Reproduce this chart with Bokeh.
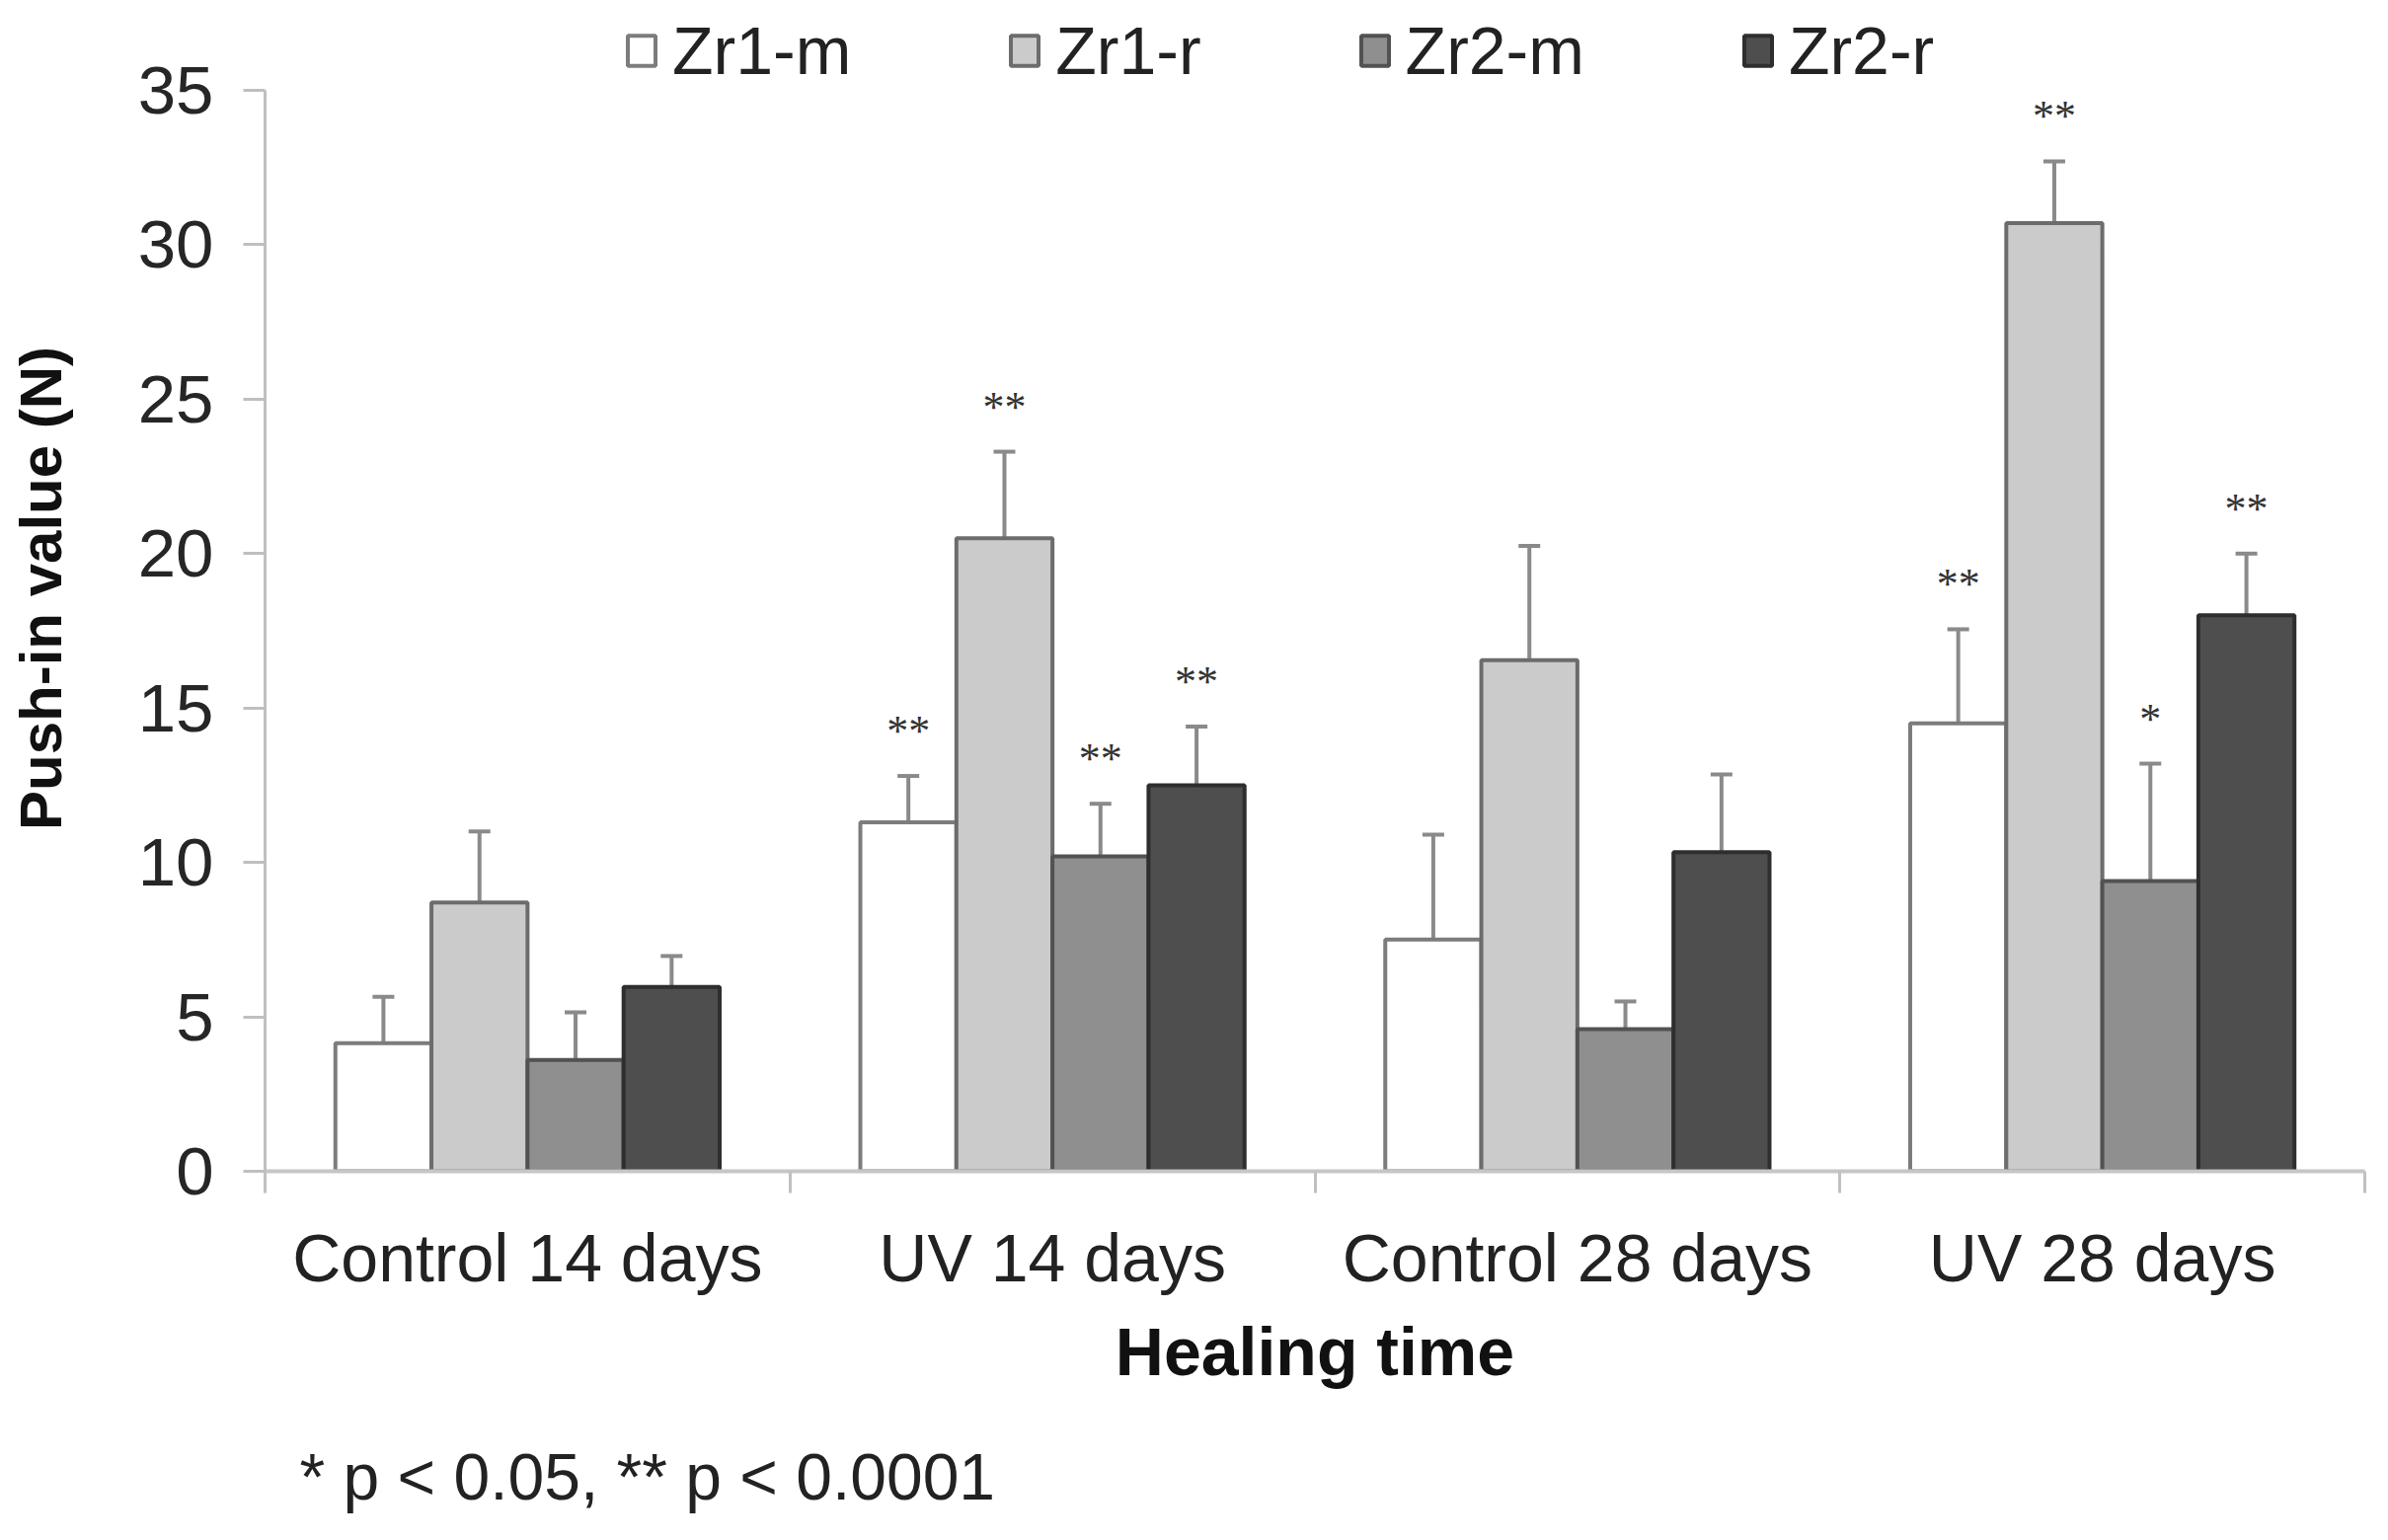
from bokeh.plotting import figure
from bokeh.models import (Range1d, FixedTicker, Whisker, TeeHead, ColumnDataSource,
                          Legend, LegendItem, LabelSet, Title)
from bokeh.embed import file_html
from bokeh.resources import INLINE

# ---------------- data ----------------
categories = ["Control 14 days", "UV 14 days", "Control 28 days", "UV 28 days"]
series = ["Zr1-m", "Zr1-r", "Zr2-m", "Zr2-r"]

zr1_m = [4.15, 11.3, 7.5, 14.5]
zr1_r = [8.7, 20.5, 16.55, 30.7]
zr2_m = [3.6, 10.2, 4.6, 9.4]
zr2_r = [5.97, 12.5, 10.33, 18.0]

zr1_m_sd = [1.5, 1.5, 3.4, 3.05]
zr1_r_sd = [2.3, 2.8, 3.7, 2.0]
zr2_m_sd = [1.55, 1.7, 0.9, 3.8]
zr2_r_sd = [1.0, 1.9, 2.52, 2.0]

zr1_m_sig = ["", "**", "", "**"]
zr1_r_sig = ["", "**", "", "**"]
zr2_m_sig = ["", "**", "", "*"]
zr2_r_sig = ["", "**", "", "**"]

y_ticks = [0, 5, 10, 15, 20, 25, 30, 35]
footnote = "* p < 0.05, ** p < 0.0001"

# ---------------- styles ----------------
FONT = "Liberation Sans"
fills = ["#ffffff", "#cbcbcb", "#8f8f8f", "#4e4e4e"]
lines = ["#7c7c7c", "#6c6c6c", "#525252", "#2e2e2e"]
bar_w = 0.183
Y_AXIS_MAX = 35
Y_VIEW_MAX = 37.75   # extra room above the axis for the legend row

n = len(categories)
p = figure(width=2403, height=1544, x_range=Range1d(0, n), y_range=Range1d(0, Y_VIEW_MAX),
           output_backend="svg", toolbar_location=None,
           min_border_left=268, min_border_right=8, min_border_top=5, min_border_bottom=358)
p.outline_line_color = None
p.grid.visible = False
p.background_fill_color = "white"

all_vals = [zr1_m, zr1_r, zr2_m, zr2_r]
all_sd = [zr1_m_sd, zr1_r_sd, zr2_m_sd, zr2_r_sd]
all_sig = [zr1_m_sig, zr1_r_sig, zr2_m_sig, zr2_r_sig]

items = []
for i, name in enumerate(series):
    vals = all_vals[i]
    sds = all_sd[i]
    xs = [k + 0.5 + (i - 1.5) * bar_w for k in range(n)]
    src = ColumnDataSource(dict(x=xs, top=vals,
                                upper=[v + s for v, s in zip(vals, sds)],
                                sig=all_sig[i]))
    wh = Whisker(source=src, base="x", lower="top", upper="upper", dimension="height",
                 line_color="#8a8a8a", line_width=4, lower_head=None,
                 upper_head=TeeHead(size=22, line_color="#8a8a8a", line_width=4))
    p.add_layout(wh)
    r = p.vbar(x="x", top="top", bottom=0, width=bar_w, source=src,
               fill_color=fills[i], line_color=lines[i], line_width=4)
    ls = LabelSet(source=src, x="x", y="upper", text="sig", y_offset=31,
                  text_align="center", text_baseline="alphabetic",
                  text_font_size="44px", text_font=FONT, text_color="#333333")
    p.add_layout(ls)
    items.append(LegendItem(label=name, renderers=[r]))

# ---------------- x axis ----------------
xa = p.xaxis[0]
xa.ticker = FixedTicker(ticks=[k + 0.5 for k in range(n)], minor_ticks=list(range(n + 1)))
xa.major_label_overrides = {k + 0.5: c for k, c in enumerate(categories)}
xa.major_tick_out = 0
xa.major_tick_in = 0
xa.minor_tick_out = 22
xa.minor_tick_in = 0
xa.minor_tick_line_color = "#c0c0c0"
xa.minor_tick_line_width = 3
xa.axis_line_color = "#c6c6c6"
xa.axis_line_width = 4
xa.major_label_text_font = FONT
xa.major_label_text_font_size = "68px"
xa.major_label_text_color = "#222222"
xa.major_label_standoff = 27
xa.axis_label = "Healing time"
xa.axis_label_text_font = FONT
xa.axis_label_text_font_size = "68px"
xa.axis_label_text_font_style = "bold"
xa.axis_label_text_color = "#111111"
xa.axis_label_standoff = 16

# ---------------- y axis ----------------
ya = p.yaxis[0]
ya.ticker = FixedTicker(ticks=y_ticks)
ya.bounds = (0, Y_AXIS_MAX)
ya.minor_tick_line_color = None
ya.axis_line_color = "#bfbfbf"
ya.axis_line_width = 3
ya.major_tick_out = 22
ya.major_tick_in = 0
ya.major_tick_line_color = "#bfbfbf"
ya.major_tick_line_width = 3
ya.major_label_text_font = FONT
ya.major_label_text_font_size = "69px"
ya.major_label_text_color = "#262626"
ya.major_label_standoff = 30
ya.axis_label = "Push-in value (N)"
ya.axis_label_text_font = FONT
ya.axis_label_text_font_size = "60px"
ya.axis_label_text_font_style = "bold"
ya.axis_label_text_color = "#111111"
ya.axis_label_standoff = 62

# ---------------- legend ----------------
legend = Legend(items=items, orientation="horizontal", location=(364, 1096),
                glyph_width=35, glyph_height=38, label_standoff=14, spacing=158,
                padding=0, margin=0, border_line_color=None, background_fill_alpha=0,
                label_text_font=FONT, label_text_font_size="68px", label_text_color="#222222")
p.add_layout(legend)

# ---------------- footnote ----------------
spacer = Title(text=" ", text_font_size="1px", standoff=44)
p.add_layout(spacer, "below")
foot = Title(text=footnote, align="left", offset=35, text_font=FONT, text_font_size="66px",
             text_font_style="normal", text_color="#222222", standoff=0)
p.add_layout(foot, "below")

open("out.html", "w").write(file_html(p, INLINE))
